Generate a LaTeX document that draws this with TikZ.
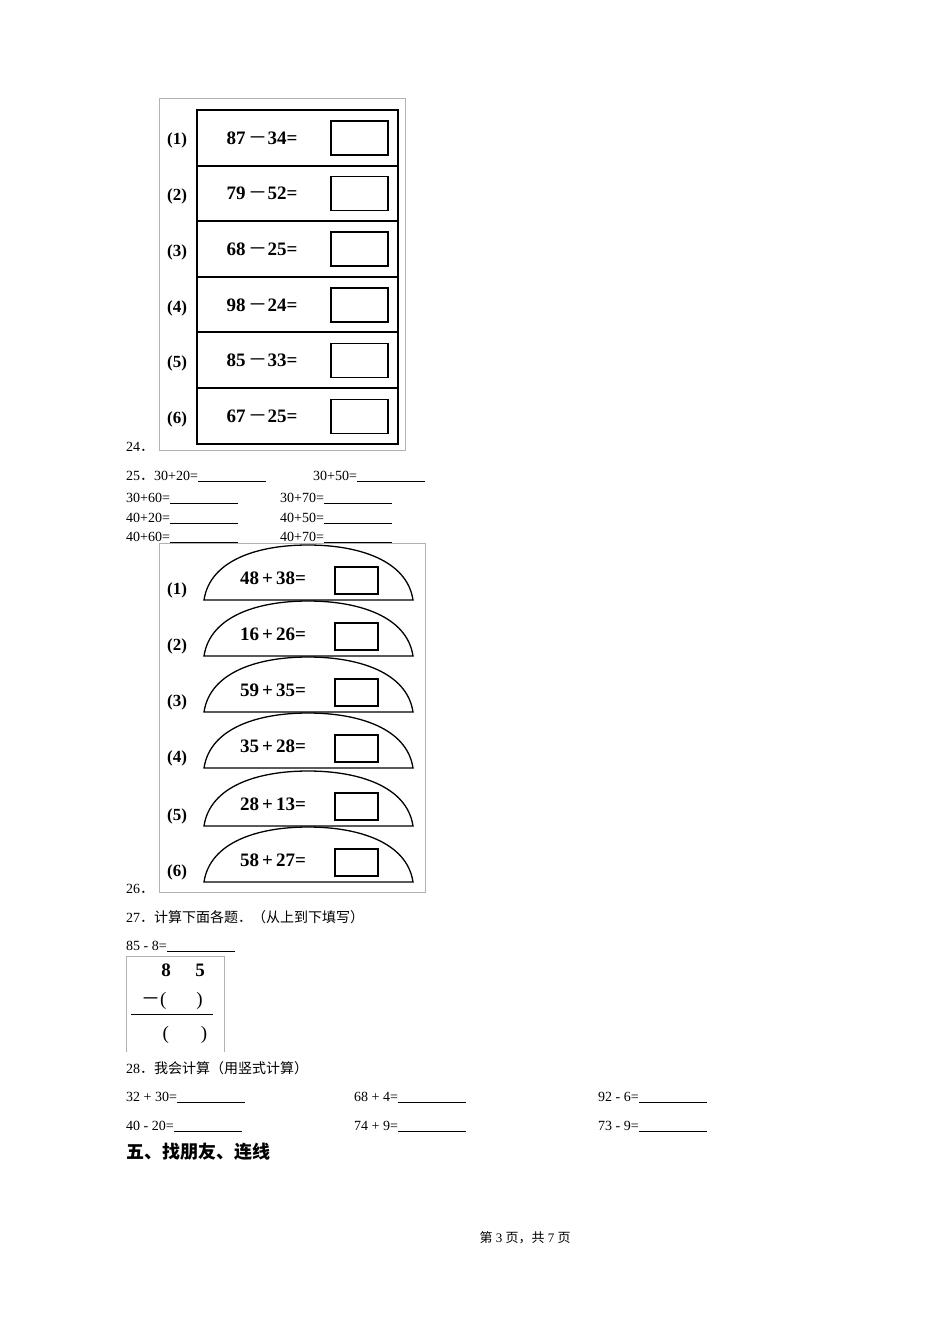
\documentclass[tikz,border=0pt]{standalone}
\usepackage{fontspec}
\setmainfont{Liberation Serif}
\newfontfamily\cjk{Noto Sans CJK SC}
\newcommand{\blk}{\rule[-1.5pt]{68pt}{0.6pt}}
\newcommand{\dt}{{\cjk ．}}
\newcommand{\wm}{\,{\cjk\mdseries －}}
\begin{document}
\begin{tikzpicture}[x=1pt,y=-1pt,
  txt/.style={anchor=base west,inner sep=0,font=\fontsize{14}{14}\selectfont},
  lab/.style={inner sep=0,font=\fontsize{17}{17}\selectfont\bfseries},
  expr/.style={inner sep=0,font=\fontsize{19}{19}\selectfont\bfseries},
  ansbox/.style={draw,line width=1.6pt},
  frame/.style={draw=black!30,line width=0.5pt}]
\useasboundingbox (0,0) rectangle (950,1344);
% --- 24
\draw[frame] (159,98) rectangle (405,450);
\draw[line width=1.4pt] (197,110) rectangle (398,444);
\foreach \y in {166,221,277,332,388} \draw[line width=1.2pt] (197,\y) -- (398,\y);
\foreach \i/\e in {1/87\wm34=,2/79\wm52=,3/68\wm25=,4/98\wm24=,5/85\wm33=,6/67\wm25=}{
  \pgfmathsetmacro\c{110+(\i-0.5)*55.7}
  \node[lab] (l24\i) at (177,\c+3) {(\i)};
  \node[expr] (e24\i) at (262,\c) {\e};
  \draw[ansbox] (331,\c-17) rectangle (388,\c+17);
}
\node[txt] (n24) at (126,451) {24\dt};
% --- 25
\node[txt] (a1) at (126,480) {25\dt 30+20=\blk};
\node[txt] (a2) at (313,480) {30+50=\blk};
\node[txt] (a3) at (126,502) {30+60=\blk};
\node[txt] (a4) at (280,502) {30+70=\blk};
\node[txt] (a5) at (126,522) {40+20=\blk};
\node[txt] (a6) at (280,522) {40+50=\blk};
\node[txt] (a7) at (126,541) {40+60=\blk};
\node[txt] (a8) at (280,541) {40+70=\blk};
% --- 26
\draw[frame] (159,543) rectangle (425,892);
\foreach \i/\b/\e in {1/600/48\,+\,38=,2/656/16\,+\,26=,3/712/59\,+\,35=,4/768/35\,+\,28=,5/826/28\,+\,13=,6/882/58\,+\,27=}{
  \draw[line width=1.3pt] (204,\b) .. controls (210,\b-40) and (258,\b-55) .. (308,\b-55)
     .. controls (358,\b-55) and (407,\b-40) .. (413,\b) -- cycle;
  \node[lab] (l26\i) at (177,\b-10) {(\i)};
  \node[expr] (e26\i) at (273,\b-22) {\e};
  \draw[ansbox] (335,\b-33) rectangle (378,\b-6);
}
\node[txt] (n26) at (126,893) {26\dt};
% --- 27
\node[txt] (t27) at (126,922) {27\dt{\cjk 计算下面各题．（从上到下填写）}};
\node[txt] (t27b) at (126,950) {85 - 8=\blk};
\draw[frame] (126,956) -- (126,1052) (224,956) -- (224,1052) (126,956) -- (224,956);
\node[expr] (d8) at (166,970) {8};
\node[expr] (d5) at (200,970) {5};
\node[inner sep=0,font=\fontsize{19}{19}\selectfont] (m1) at (172,1001) {{\cjk －}(\hspace{30pt})};
\draw[line width=0.8pt] (131,1014) -- (213,1014);
\node[inner sep=0,font=\fontsize{19}{19}\selectfont] (m2) at (185,1035) {(\hspace{32pt})};
% --- 28
\node[txt] (t28) at (126,1073) {28\dt{\cjk 我会计算（用竖式计算）}};
\node[txt] (b1) at (126,1101) {32 + 30=\blk};
\node[txt] (b2) at (354,1101) {68 + 4=\blk};
\node[txt] (b3) at (598,1101) {92 - 6=\blk};
\node[txt] (b4) at (126,1130) {40 - 20=\blk};
\node[txt] (b5) at (354,1130) {74 + 9=\blk};
\node[txt] (b6) at (598,1130) {73 - 9=\blk};
\node[txt,font=\fontsize{18}{18}\selectfont\cjk\bfseries] (h5) at (126,1158) {五、找朋友、连线};
\node[inner sep=0,font=\fontsize{13}{13}\selectfont] (ft) at (525,1238) {{\cjk 第} 3 {\cjk 页，共} 7 {\cjk 页}};
\end{tikzpicture}
\end{document}
